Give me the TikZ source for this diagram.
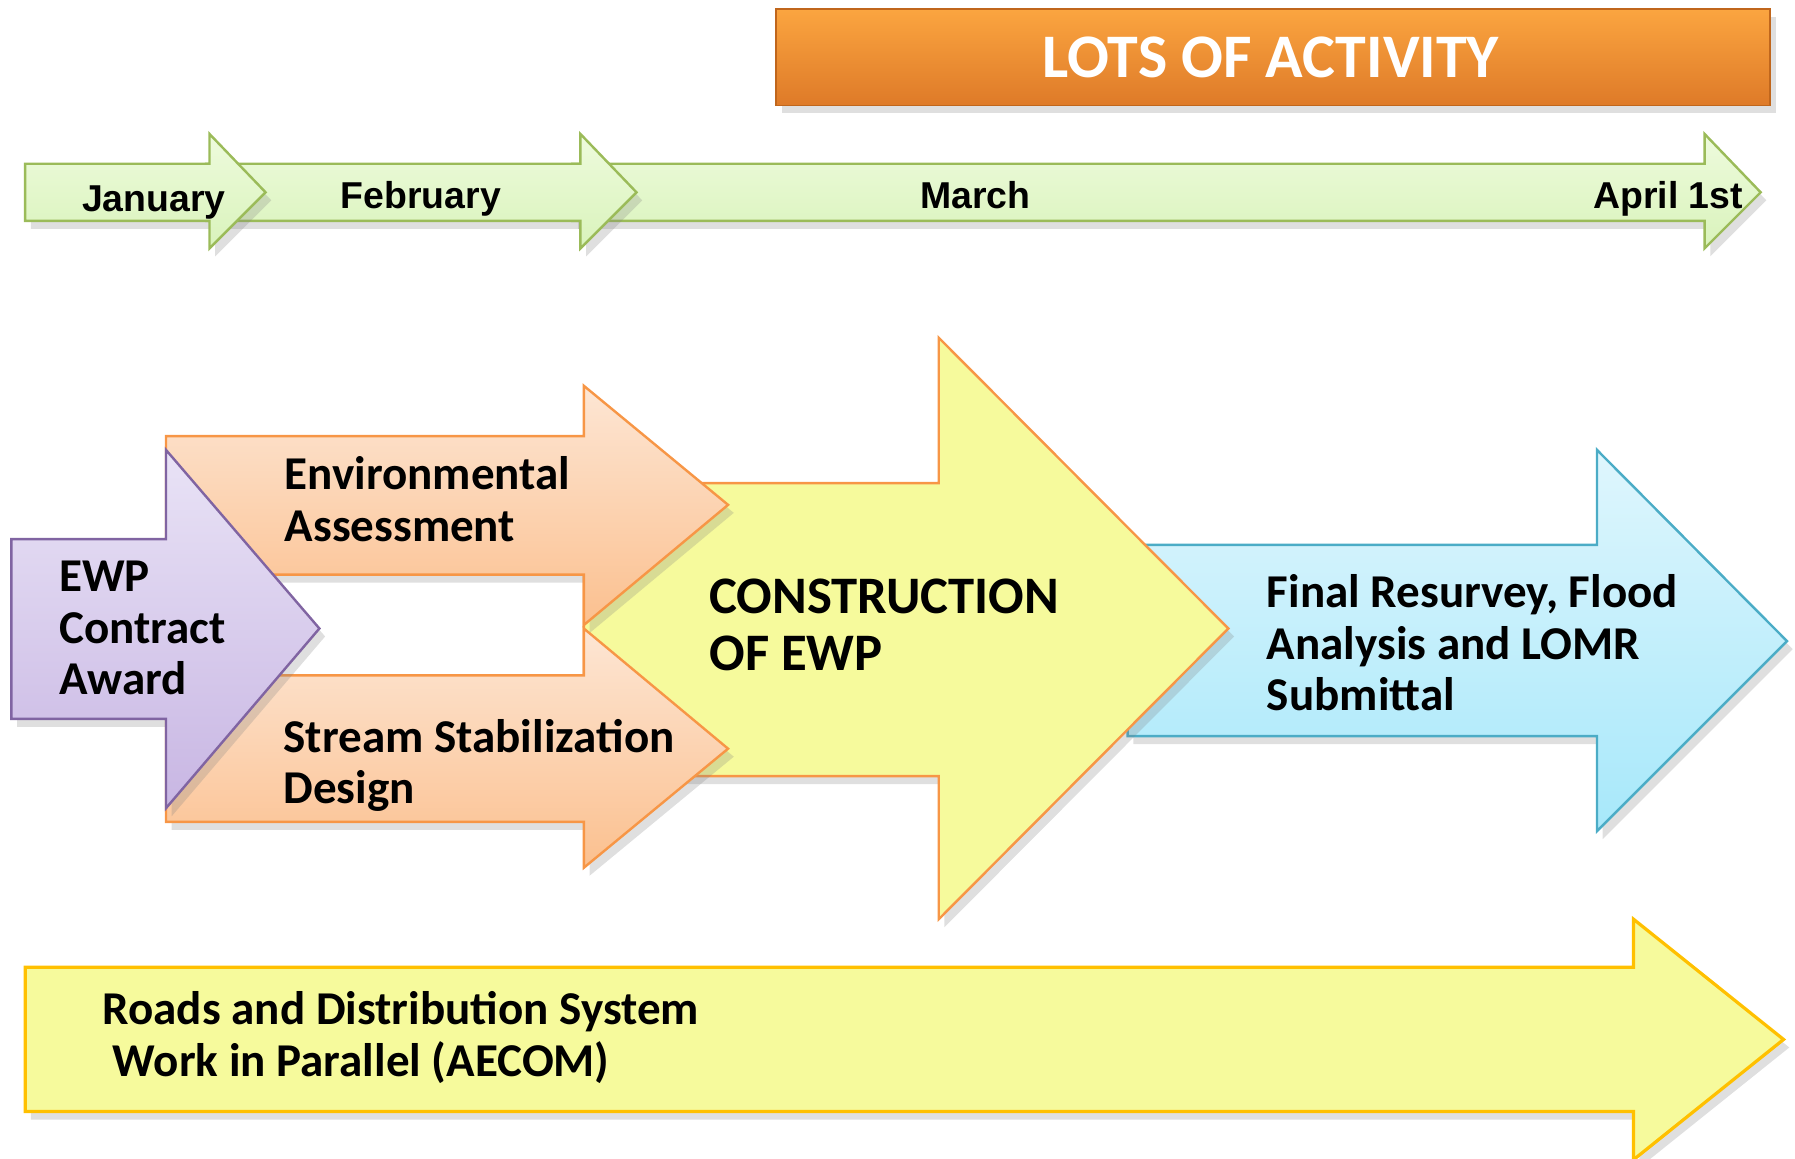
\documentclass[tikz,border=0pt]{standalone}
\usepackage{fontspec}
\setmainfont{Carlito}
\newfontfamily\monthfont{Liberation Sans}
\usepackage{xcolor}
\usepackage{tikz}
\usetikzlibrary{shadows}
\definecolor{grnline}{HTML}{9BBB59}
\definecolor{grntop}{HTML}{EEFBDD}
\definecolor{grnbot}{HTML}{D9F3BB}
\definecolor{purline}{HTML}{8064A2}
\definecolor{purtop}{HTML}{E9E3F6}
\definecolor{purbot}{HTML}{C8B6E3}
\definecolor{orgline}{HTML}{F79646}
\definecolor{orgtop}{HTML}{FDE6D4}
\definecolor{orgbot}{HTML}{FBC08F}
\definecolor{aqline}{HTML}{4BACC6}
\definecolor{aqtop}{HTML}{DFF6FD}
\definecolor{aqbot}{HTML}{A7E8FA}
\definecolor{yelfill}{HTML}{F6FA9C}
\definecolor{yelline}{HTML}{FFC000}
\definecolor{acttop}{HTML}{FBA540}
\definecolor{actmid}{HTML}{F7922E}
\definecolor{actbot}{HTML}{DE7A28}
\definecolor{actline}{HTML}{C0661C}
\tikzset{
  shad/.style={drop shadow={opacity=0.25, shadow xshift=0.5mm, shadow yshift=-0.7mm}},
  grnarrow/.style={shad, draw=grnline, line width=0.6pt, line join=miter, top color=grntop, bottom color=grnbot},
  purarrow/.style={shad, draw=purline, line width=0.6pt, top color=purtop, bottom color=purbot},
  orgarrow/.style={shad, draw=orgline, line width=0.6pt, top color=orgtop, bottom color=orgbot},
  aqarrow/.style={shad, draw=aqline, line width=0.6pt, top color=aqtop, bottom color=aqbot},
  consarrow/.style={shad, draw=orgline, line width=0.6pt, fill=yelfill},
  roadarrow/.style={shad, draw=yelline, line width=0.8pt, fill=yelfill},
  actbox/.style={shad, draw=actline, line width=0.4pt, top color=acttop, middle color=actmid, bottom color=actbot},
  mon/.style={font=\monthfont\bfseries\fontsize{9.3}{11}\selectfont, inner sep=0pt, anchor=base west},
  lab/.style={font=\bfseries\fontsize{11.7}{12.8}\selectfont, align=left, inner sep=0pt, anchor=base west},
  big/.style={font=\bfseries\fontsize{13.1}{14.2}\selectfont, align=left, inner sep=0pt, anchor=base west},
}
\begin{document}
\begin{tikzpicture}[x=0.1mm, y=-0.1mm]
\useasboundingbox (0,0) rectangle (1568,1012);
\path[actbox] (678,8) rectangle (1546,92);
\node[font=\bfseries\fontsize{15.4}{17}\selectfont, text=white, inner sep=0pt] (act) at (1110,50) {LOTS OF ACTIVITY};
\path[grnarrow] (500,143) -- (1489,143) -- (1489,117) -- (1538,168) -- (1489,217) -- (1489,193) -- (500,193) -- cycle;
\path[grnarrow] (180,143) -- (507,143) -- (507,117) -- (556,168) -- (507,217) -- (507,193) -- (180,193) -- cycle;
\path[grnarrow] (22,143) -- (183,143) -- (183,117) -- (232,168) -- (183,217) -- (183,193) -- (22,193) -- cycle;
\node[mon] (jan) at (71,185) {January};
\node[mon] (feb) at (297,182) {February};
\node[mon] (mar) at (803,182) {March};
\node[mon] (apr) at (1391,182) {April 1st};
\path[roadarrow] (22,845) -- (1427,845) -- (1427,803) -- (1558,908) -- (1427,1013) -- (1427,971) -- (22,971) -- cycle;
\path[aqarrow] (985,476) -- (1395,476) -- (1395,393) -- (1561,560) -- (1395,726) -- (1395,643) -- (985,643) -- cycle;
\path[consarrow] (510,422) -- (820,422) -- (820,295) -- (1073,549) -- (820,803) -- (820,678) -- (510,678) -- cycle;
\path[orgarrow] (145,381) -- (510,381) -- (510,337) -- (636,441) -- (510,546) -- (510,502) -- (145,502) -- cycle;
\path[orgarrow] (145,590) -- (510,590) -- (510,549) -- (636,654) -- (510,758) -- (510,718) -- (145,718) -- cycle;
\path[purarrow] (10,471) -- (145,471) -- (145,393) -- (279,549) -- (145,706) -- (145,628) -- (10,628) -- cycle;
\node[lab] (ewp) at (51,607) {EWP\\Contract\\Award};
\node[lab] (env) at (248,473) {Environmental\\Assessment};
\node[lab] (stream) at (247,702) {Stream Stabilization\\Design};
\node[big] (cons) at (619,586) {CONSTRUCTION\\OF EWP};
\node[lab] (final) at (1106,621) {Final Resurvey, Flood\\Analysis and LOMR\\Submittal};
\node[lab] (roads) at (89,940) {Roads and Distribution System\\\hspace*{0.9mm}Work in Parallel (AECOM)};
\end{tikzpicture}
\end{document}
